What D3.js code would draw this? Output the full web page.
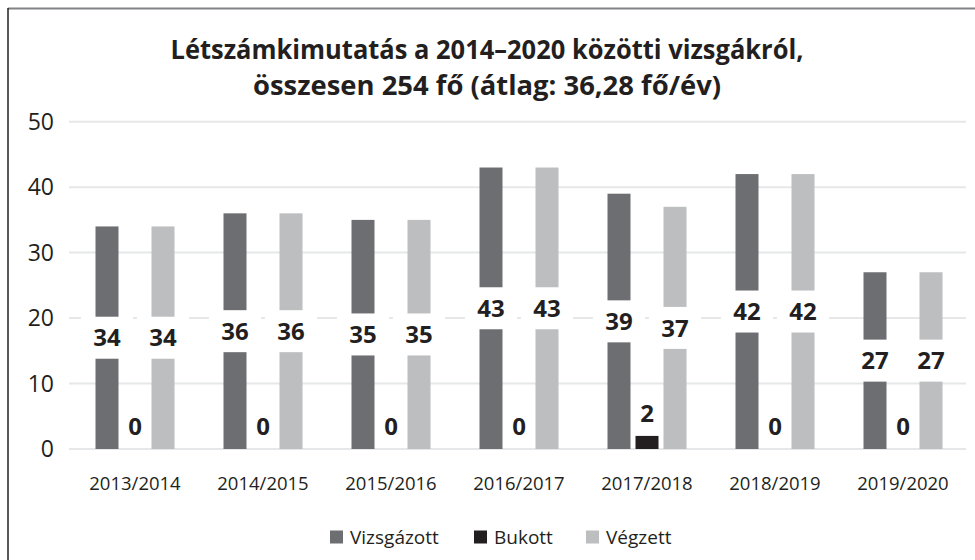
<!DOCTYPE html>
<html>
<head>
<meta charset="utf-8">
<script src="https://cdn.jsdelivr.net/npm/d3@7"></script>
<style>
  body { margin: 0; background: #fff; }
  svg { display: block; font-family: "Open Sans", "Noto Sans", sans-serif; }
</style>
</head>
<body>
<div id="chart"></div>
<script>
// tanévek és sorozatok
const years = ['2013/2014', '2014/2015', '2015/2016', '2016/2017', '2017/2018', '2018/2019', '2019/2020'];
const vizsgazott = [34, 36, 35, 43, 39, 42, 27];
const bukott = [0, 0, 0, 0, 2, 0, 0];
const vegzett = [34, 36, 35, 43, 37, 42, 27];
const seriesNames = ['Vizsgázott', 'Bukott', 'Végzett'];
const seriesColors = ['#6d6e71', '#231f20', '#bcbec0'];
const yTicks = [0, 10, 20, 30, 40, 50];
const titleLines = ['Létszámkimutatás a 2014–2020 közötti vizsgákról,', 'összesen 254 fő (átlag: 36,28 fő/év)'];

const width = 975, height = 560;
const margin = { top: 121.7, right: 8, bottom: 111, left: 71 };

const svg = d3.select('#chart').append('svg')
  .attr('width', width)
  .attr('height', height);

// keret: felső és bal vonal
svg.append('line').attr('x1', 8).attr('x2', width).attr('y1', 8.5).attr('y2', 8.5)
  .attr('stroke', '#808285').attr('stroke-width', 2);
svg.append('line').attr('x1', 8).attr('x2', 8).attr('y1', 8).attr('y2', height)
  .attr('stroke', '#231f20').attr('stroke-width', 1.5);

// cím
svg.append('g').selectAll('text')
  .data(titleLines)
  .join('text')
  .attr('x', 487)
  .attr('y', (d, i) => 59 + i * 36)
  .attr('text-anchor', 'middle')
  .attr('font-size', 26)
  .attr('font-weight', 700)
  .attr('fill', '#231f20')
  .attr('textLength', (d, i) => i === 0 ? 633 : 468)
  .attr('lengthAdjust', 'spacingAndGlyphs')
  .text(d => d);

const x = d3.scaleBand()
  .domain(years)
  .range([margin.left, width - margin.right])
  .paddingInner(0).paddingOuter(0);

const y = d3.scaleLinear()
  .domain([0, 50])
  .range([449, margin.top]);

// rácsvonalak
svg.append('g').selectAll('line')
  .data(yTicks)
  .join('line')
  .attr('x1', 69).attr('x2', 966)
  .attr('y1', d => y(d)).attr('y2', d => y(d))
  .attr('stroke', '#e6e7e8')
  .attr('stroke-width', 2);

// y tengely feliratok
svg.append('g').selectAll('text')
  .data(yTicks)
  .join('text')
  .attr('x', 54)
  .attr('y', d => y(d))
  .attr('dy', '0.36em')
  .attr('text-anchor', 'end')
  .attr('font-size', 23)
  .attr('fill', '#231f20')
  .text(d => d);

const x1 = d3.scaleBand()
  .domain(seriesNames)
  .range([0, 3 * 23 + 2 * 5])
  .paddingInner(5 / 28)
  .paddingOuter(0);

const rows = [];
years.forEach((yr, i) => {
  [vizsgazott, bukott, vegzett].forEach((arr, s) => {
    rows.push({ year: yr, series: seriesNames[s], si: s, value: arr[i] });
  });
});

const groupOffset = (x.bandwidth() - x1.range()[1]) / 2;

// oszlopok
svg.append('g').selectAll('rect')
  .data(rows)
  .join('rect')
  .attr('x', d => x(d.year) + groupOffset + x1(d.series))
  .attr('y', d => y(d.value))
  .attr('width', x1.bandwidth())
  .attr('height', d => y(0) - y(d.value))
  .attr('fill', d => seriesColors[d.si]);

// adatfeliratok
const labelX = d => x(d.year) + groupOffset + x1(d.series) + x1.bandwidth() / 2;
const labelY = d => d.si === 1 ? y(d.value) - 23 : y(d.value / 2);

svg.append('g').selectAll('rect')
  .data(rows.filter(d => d.si !== 1))
  .join('rect')
  .attr('x', d => labelX(d) - 26)
  .attr('y', d => labelY(d) - 21)
  .attr('width', 52)
  .attr('height', 42)
  .attr('fill', '#fff');

svg.append('g').selectAll('text')
  .data(rows)
  .join('text')
  .attr('x', labelX)
  .attr('y', labelY)
  .attr('dy', '0.36em')
  .attr('text-anchor', 'middle')
  .attr('font-size', 24)
  .attr('font-weight', 700)
  .attr('fill', '#231f20')
  .text(d => d.value);

// x tengely feliratok
svg.append('g').selectAll('text')
  .data(years)
  .join('text')
  .attr('x', d => x(d) + x.bandwidth() / 2)
  .attr('y', 483)
  .attr('dy', '0.36em')
  .attr('text-anchor', 'middle')
  .attr('font-size', 18.5)
  .attr('fill', '#231f20')
  .text(d => d);

// jelmagyarázat
const legendX = [330, 474, 586];
const legend = svg.append('g').selectAll('g')
  .data(seriesNames)
  .join('g')
  .attr('transform', (d, i) => `translate(${legendX[i]},537)`);
legend.append('rect')
  .attr('x', 0).attr('y', -6.5)
  .attr('width', 13).attr('height', 13)
  .attr('fill', (d, i) => seriesColors[i]);
legend.append('text')
  .attr('x', 20)
  .attr('dy', '0.36em')
  .attr('font-size', 19)
  .attr('fill', '#231f20')
  .text(d => d);
</script>
</body>
</html>
